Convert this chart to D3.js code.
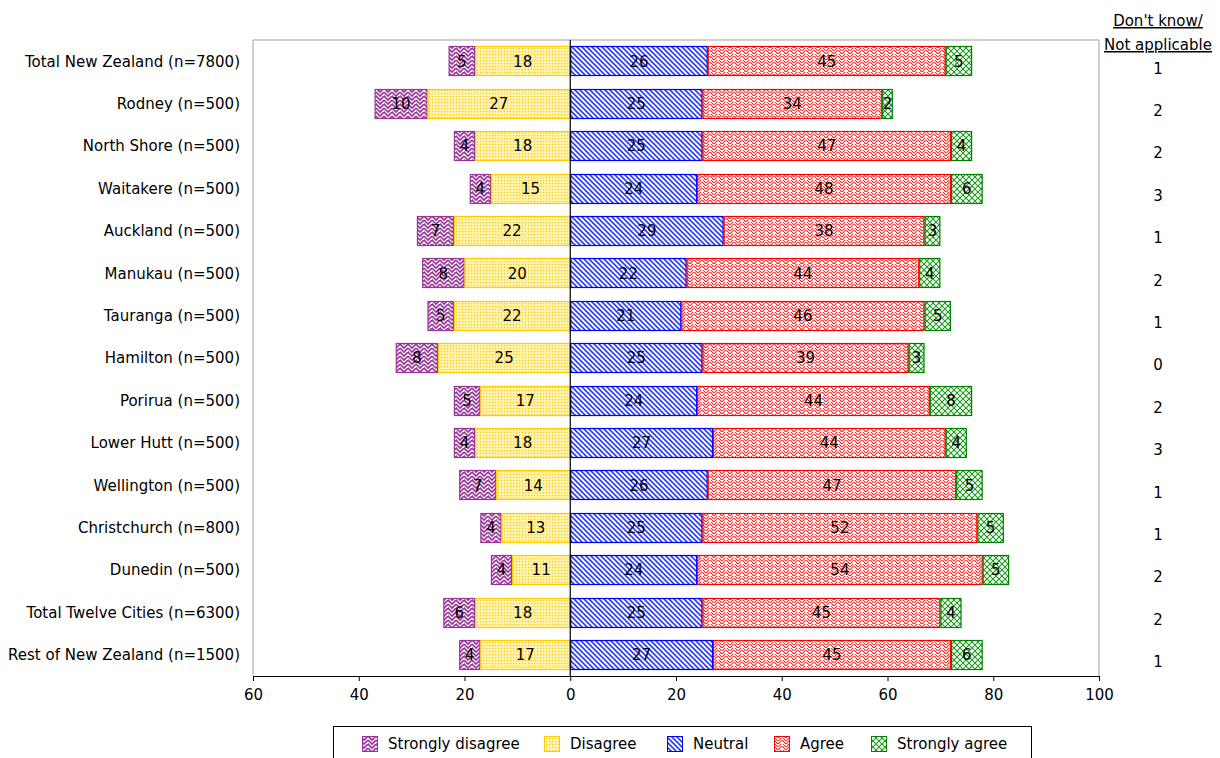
<!DOCTYPE html>
<html><head><meta charset="utf-8">
<script src="https://cdn.jsdelivr.net/npm/d3@7"></script>
<style>body{margin:0;background:#fff}svg{display:block;font-family:"DejaVu Sans",sans-serif}</style>
</head><body><svg id="c" width="1220" height="758"></svg>
<script>
const categories = ["Total New Zealand (n=7800)","Rodney (n=500)","North Shore (n=500)","Waitakere (n=500)","Auckland (n=500)","Manukau (n=500)","Tauranga (n=500)","Hamilton (n=500)","Porirua (n=500)","Lower Hutt (n=500)","Wellington (n=500)","Christchurch (n=800)","Dunedin (n=500)","Total Twelve Cities (n=6300)","Rest of New Zealand (n=1500)"];
const stronglyDisagree = [5,10,4,4,7,8,5,8,5,4,7,4,4,6,4];
const disagree = [18,27,18,15,22,20,22,25,17,18,14,13,11,18,17];
const neutral = [26,25,25,24,29,22,21,25,24,27,26,25,24,25,27];
const agree = [45,34,47,48,38,44,46,39,44,44,47,52,54,45,45];
const stronglyAgree = [5,2,4,6,3,4,5,3,8,4,5,5,5,4,6];
const dontKnow = [1,2,2,3,1,2,1,0,2,3,1,1,2,2,1];
const seriesNames = ["Strongly disagree","Disagree","Neutral","Agree","Strongly agree"];
const xTicks = [-60,-40,-20,0,20,40,60,80,100];

const FS = 15;
const svg = d3.select("#c");
const L=253,R=1099,T=40,B=676;
const x = d3.scaleLinear().domain([-60,100]).range([L,R]);
const y = d3.scaleBand().domain(categories).range([T,B]).paddingInner(0.3).paddingOuter(0.15);

const defs = svg.append("defs");
function pat(id,w,h,fn){const p=defs.append("pattern").attr("id",id).attr("patternUnits","userSpaceOnUse").attr("width",w).attr("height",h);p.append("rect").attr("width",w).attr("height",h).attr("fill","#fff");fn(p);}
pat("pSD",8,8,p=>{
  p.append("path").attr("d","M0,0 l4,4 l4,-4 M0,4 l4,4 l4,-4").attr("stroke","#993399").attr("stroke-width",1.6).attr("fill","none");
  p.append("path").attr("d","M4,0 v1 M0,7 v1").attr("stroke","#993399").attr("stroke-width",1.5);
});
pat("pD",3,3,p=>{p.append("rect").attr("width",3).attr("height",3).attr("fill","#fff3b0");p.append("rect").attr("x",0).attr("y",0).attr("width",1.2).attr("height",1.2).attr("fill","#ffcc00");});
pat("pN",5,5,p=>{p.append("path").attr("d","M-1,-1 l7,7 M-1,4 l2,2 M4,-1 l2,2").attr("stroke","#2a3cff").attr("stroke-width",1.6);});
pat("pA",8,6,p=>{p.append("path").attr("d","M0,1 Q2,4 4,1 T8,1 M0,4 Q2,7 4,4 T8,4").attr("stroke","#ff2020").attr("stroke-width",1.1).attr("fill","none");});
pat("pSA",6,6,p=>{p.append("path").attr("d","M0,0 L6,6 M6,0 L0,6").attr("stroke","#1e9a1e").attr("stroke-width",1.1);});
const fills = ["url(#pSD)","url(#pD)","url(#pN)","url(#pA)","url(#pSA)"];
const strokes = ["#993399","#ffcc00","#0000ff","#ff0000","#008000"];

svg.append("path").attr("d",`M${L},${B} V${T} H${R} V${B}`).attr("fill","none").attr("stroke","#a0a0a0").attr("stroke-width",1);

const rows = categories.map((c,i)=>{
  const sd=stronglyDisagree[i], d=disagree[i], n=neutral[i], a=agree[i], sa=stronglyAgree[i];
  return {c, segs:[
    {s:0,v:sd,x0:-(sd+d),x1:-d},
    {s:1,v:d,x0:-d,x1:0},
    {s:2,v:n,x0:0,x1:n},
    {s:3,v:a,x0:n,x1:n+a},
    {s:4,v:sa,x0:n+a,x1:n+a+sa}]};
});
const g = svg.append("g");
rows.forEach(r=>{
  r.segs.forEach(sg=>{
    g.append("rect").attr("x",x(sg.x0)+0.5).attr("y",Math.round(y(r.c))+0.5).attr("width",x(sg.x1)-x(sg.x0)-1).attr("height",Math.round(y.bandwidth())-1)
      .attr("fill",fills[sg.s]).attr("stroke",strokes[sg.s]).attr("stroke-width",1.2);
    g.append("text").attr("x",(x(sg.x0)+x(sg.x1))/2).attr("y",y(r.c)+y.bandwidth()/2).attr("dy","0.36em").attr("text-anchor","middle")
      .attr("font-size",FS).attr("fill","#000").text(sg.v);
  });
  svg.append("text").attr("x",240).attr("y",y(r.c)+y.bandwidth()/2).attr("dy","0.36em").attr("text-anchor","end").attr("font-size",FS).text(r.c);
});
categories.forEach((c,i)=>{
  svg.append("text").attr("x",1158).attr("y",y(c)+y.bandwidth()/2+7).attr("dy","0.36em").attr("text-anchor","middle").attr("font-size",FS).text(dontKnow[i]);
});
svg.append("text").attr("x",1158).attr("y",26).attr("text-anchor","middle").attr("font-size",FS).attr("text-decoration","underline").text("Don't know/");
svg.append("text").attr("x",1158).attr("y",50).attr("text-anchor","middle").attr("font-size",FS).attr("text-decoration","underline").text("Not applicable");

svg.append("line").attr("x1",x(0)).attr("x2",x(0)).attr("y1",T).attr("y2",B).attr("stroke","#000").attr("stroke-width",1.2);
const ax = svg.append("g").attr("transform",`translate(0,${B})`).call(d3.axisBottom(x).tickValues(xTicks).tickSize(5).tickSizeOuter(0).tickFormat(d=>Math.abs(d)));
ax.select(".domain").attr("stroke","#000");
ax.selectAll("text").attr("font-size",FS).attr("font-family","DejaVu Sans, sans-serif").attr("dy","1.05em").attr("fill","#000");

const lg = svg.append("g");
lg.append("rect").attr("x",333.5).attr("y",726.5).attr("width",698).attr("height",40).attr("fill","#fff").attr("stroke","#000");
const lx = [362,544,667,774,871];
seriesNames.forEach((s,i)=>{
  lg.append("rect").attr("x",lx[i]+0.5).attr("y",736.5).attr("width",15).attr("height",15).attr("fill",fills[i]).attr("stroke",strokes[i]);
  lg.append("text").attr("x",lx[i]+26).attr("y",744).attr("dy","0.36em").attr("font-size",FS).text(s);
});
</script></body></html>
